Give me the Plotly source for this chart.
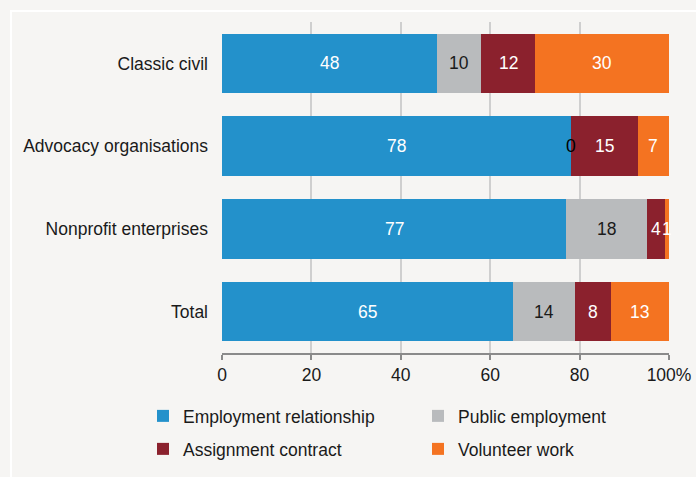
import plotly.graph_objects as go

categories = ["Classic civil", "Advocacy organisations", "Nonprofit enterprises", "Total"]
employment_relationship = [48, 78, 77, 65]
public_employment = [10, 0, 18, 14]
assignment_contract = [12, 15, 4, 8]
volunteer_work = [30, 7, 1, 13]
x_ticks = [0, 20, 40, 60, 80, 100]
x_ticklabels = ["0", "20", "40", "60", "80", "100%"]

series = [
    ("Employment relationship", employment_relationship, "#2391cb", "white", "legend"),
    ("Public employment", public_employment, "#b9bbbd", "#1a1a1a", "legend"),
    ("Assignment contract", assignment_contract, "#8b212d", "white", "legend2"),
    ("Volunteer work", volunteer_work, "#f47321", "white", "legend2"),
]

FONT = "Liberation Sans, Arial, sans-serif"
FS = 17.5
W, H = 696, 477
L, R, T, B = 222, 27, 22, 124
pw, ph = W - L - R, H - T - B

fig = go.Figure()
cum = [0] * len(categories)
annotations = []
for name, vals, color, tcol, lg in series:
    fig.add_trace(go.Bar(
        y=categories, x=vals, name=name, orientation="h",
        marker=dict(color=color, line=dict(width=0)),
        width=0.72, hoverinfo="x+name", legend=lg,
    ))
    for i, v in enumerate(vals):
        center = cum[i] + v / 2
        annotations.append(dict(
            x=center, y=categories[i], xref="x", yref="y", text=str(v),
            showarrow=False, font=dict(family=FONT, size=FS, color=tcol if v > 0 else "#000000"),
        ))
        cum[i] += v

def px_x(p):
    return (p - L) / pw

def px_y(p):
    return (H - B - p) / ph

legend_common = dict(
    orientation="h", xanchor="left", yanchor="middle",
    entrywidth=230, traceorder="normal", font=dict(size=FS),
    bgcolor="rgba(0,0,0,0)", itemclick=False,
)

fig.update_layout(
    width=W, height=H,
    margin=dict(l=L, r=R, t=T, b=B, autoexpand=False),
    barmode="stack",
    paper_bgcolor="#f6f5f3", plot_bgcolor="#f6f5f3",
    font=dict(family=FONT, size=FS, color="#1a1a1a"),
    showlegend=True,
    legend=dict(x=px_x(143), y=px_y(416), **legend_common),
    legend2=dict(x=px_x(143), y=px_y(449), **legend_common),
    annotations=annotations,
    shapes=[dict(type="rect", xref="paper", yref="paper",
                 x0=px_x(11), x1=px_x(720), y0=px_y(11), y1=px_y(500),
                 line=dict(color="white", width=2), layer="below")],
)
fig.update_xaxes(
    range=[0, 100], tickvals=x_ticks, ticktext=x_ticklabels, automargin=False,
    showgrid=True, gridcolor="#cfcfcf", gridwidth=1.5,
    showline=True, linecolor="#8a8a8a", linewidth=2,
    ticks="outside", ticklen=5, tickcolor="#8a8a8a", tickwidth=1.5,
    zeroline=False, tickfont=dict(size=FS),
)
fig.update_yaxes(
    categoryorder="array", categoryarray=categories, autorange="reversed", automargin=False,
    showgrid=False, showline=False, ticks="", ticklabelstandoff=13,
    tickfont=dict(size=FS),
)
fig.write_html("out.html")
